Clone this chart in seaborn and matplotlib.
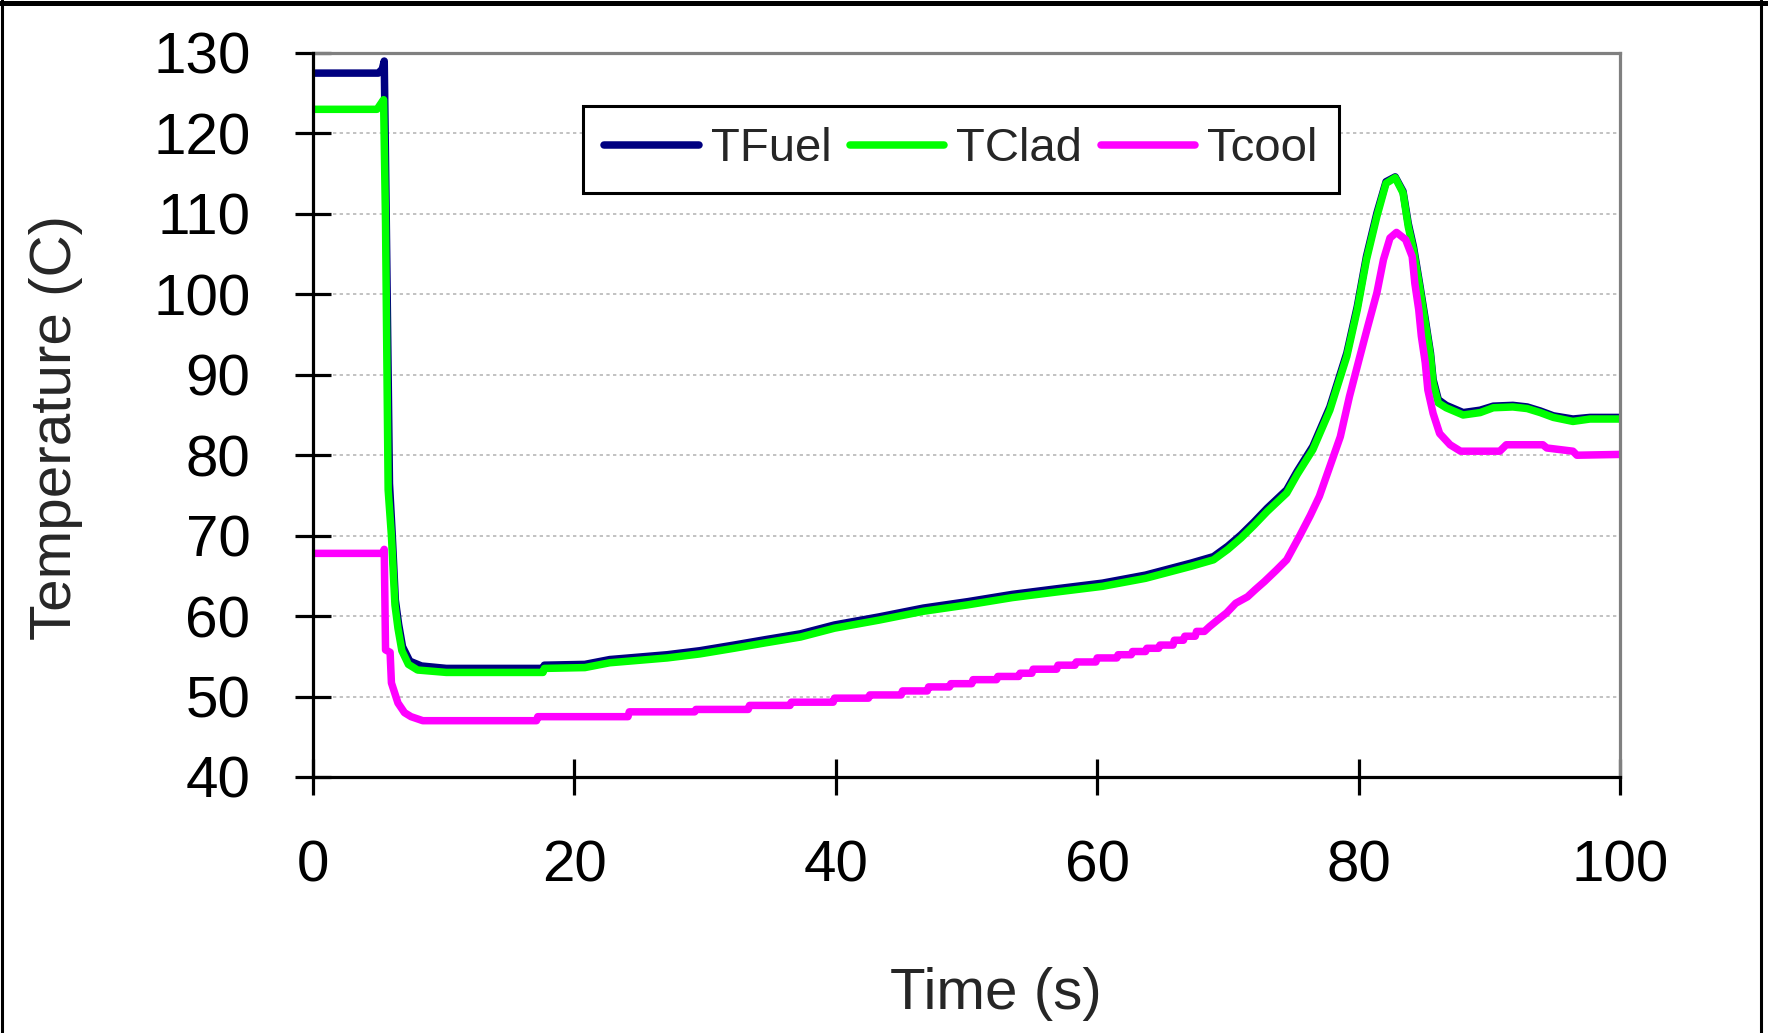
import numpy as np
import pandas as pd
import matplotlib
matplotlib.use("Agg")
import matplotlib.pyplot as plt
import seaborn as sns
from matplotlib.lines import Line2D

# ---------------- data ----------------
series_names = ["TFuel", "TClad", "Tcool"]
series_colors = ["#000080", "#00FF00", "#FF00FF"]

tfuel_time = [0, 5.0, 5.3, 5.45, 5.6, 5.85, 6.05, 6.3, 6.55, 6.85, 7.4, 8.3, 10.2,
              17.6, 17.7, 20.8, 22.7, 27.1, 29.6, 32.2, 34.7, 37.3, 39.9, 43.3,
              46.7, 50.1, 53.5, 56.9, 60.4, 63.7, 67.2, 68.9, 70.0, 71.0, 72.0,
              73.0, 74.5, 75.3, 76.5, 77.8, 79.1, 79.9, 80.6, 81.4, 82.1, 82.8,
              83.4, 83.8, 84.2, 84.7, 85.1, 85.5, 85.7, 86.1, 86.7, 88.0, 89.3,
              90.3, 91.8, 92.9, 93.9, 94.9, 96.4, 97.7, 100]
tfuel_temp = [127.5, 127.5, 128.0, 129.0, 110.0, 76.5, 70.5, 62.0, 59.0, 56.2, 54.4, 53.8, 53.5,
              53.5, 53.9, 54.0, 54.6, 55.2, 55.7, 56.4, 57.1, 57.8, 58.9, 59.9,
              61.0, 61.8, 62.7, 63.4, 64.1, 65.1, 66.6, 67.4, 68.7, 70.1, 71.7,
              73.4, 75.7, 78.0, 81.1, 86.0, 92.7, 98.5, 104.7, 110.1, 114.0, 114.6,
              112.8, 108.8, 105.9, 101.0, 96.9, 92.7, 89.4, 86.9, 86.2, 85.3, 85.6,
              86.1, 86.2, 86.0, 85.5, 84.9, 84.5, 84.7, 84.7]

tclad_time = [0, 4.9, 5.4, 5.55, 5.75, 6.0, 6.27, 6.5, 6.8, 7.3, 8.0, 10.2,
              17.6, 17.7, 20.8, 22.7, 27.1, 29.6, 32.2, 34.7, 37.3, 39.9, 43.3,
              46.7, 50.1, 53.5, 56.9, 60.4, 63.7, 67.2, 68.9, 70.0, 71.0, 72.0,
              73.0, 74.5, 75.3, 76.5, 77.8, 79.1, 79.9, 80.6, 81.4, 82.1, 82.8,
              83.4, 83.8, 84.2, 84.7, 85.1, 85.5, 85.7, 86.1, 86.7, 88.0, 89.3,
              90.3, 91.8, 92.9, 93.9, 94.9, 96.4, 97.7, 100]
tclad_temp = [123.0, 123.0, 124.2, 108.8, 75.7, 70.0, 61.4, 58.5, 55.7, 54.0, 53.3, 53.0,
              53.0, 53.5, 53.6, 54.2, 54.8, 55.3, 56.0, 56.7, 57.4, 58.5, 59.5,
              60.6, 61.4, 62.3, 63.0, 63.7, 64.7, 66.2, 67.0, 68.3, 69.7, 71.3,
              73.0, 75.3, 77.6, 80.7, 85.6, 92.3, 98.1, 104.3, 109.7, 113.8, 114.5,
              112.6, 108.4, 105.5, 100.6, 96.5, 92.3, 89.0, 86.5, 85.9, 85.0, 85.3,
              85.9, 86.0, 85.8, 85.3, 84.7, 84.2, 84.5, 84.5]

tcool_time = [0, 5.3, 5.45, 5.55, 5.9, 6.0, 6.5, 7.0, 7.5, 8.4,
              17.1, 17.2, 24.1, 24.2, 29.2, 29.3, 33.3, 33.4, 36.5, 36.6,
              39.8, 39.9, 42.5, 42.6, 45.0, 45.1, 47.0, 47.1, 48.7, 48.8,
              50.4, 50.5, 52.3, 52.4, 54.0, 54.1, 55.0, 55.1, 56.9, 57.0,
              58.3, 58.4, 59.9, 60.0, 61.5, 61.6, 62.6, 62.7, 63.7, 63.8,
              64.7, 64.8, 65.8, 65.9, 66.6, 66.7, 67.5, 67.6, 68.2, 68.6,
              69.2, 69.9, 70.6, 71.5, 72.1, 72.8, 73.7, 74.5, 75.5, 76.3,
              77.0, 77.8, 78.6, 79.3, 80.1, 80.7, 81.4, 81.9, 82.4, 82.9,
              83.6, 84.1, 84.3, 84.6, 84.8, 85.1, 85.3, 85.7, 86.2, 87.0,
              87.8, 90.8, 91.3, 94.1, 94.4, 96.4, 96.7, 100]
tcool_temp = [67.8, 67.8, 68.3, 55.8, 55.5, 51.7, 49.2, 48.0, 47.5, 47.0,
              47.0, 47.5, 47.5, 48.1, 48.1, 48.4, 48.4, 48.9, 48.9, 49.3,
              49.3, 49.8, 49.8, 50.2, 50.2, 50.7, 50.7, 51.2, 51.2, 51.6,
              51.6, 52.1, 52.1, 52.5, 52.5, 52.9, 52.9, 53.4, 53.4, 53.9,
              53.9, 54.3, 54.3, 54.8, 54.8, 55.2, 55.2, 55.6, 55.6, 56.0,
              56.0, 56.4, 56.4, 57.0, 57.0, 57.5, 57.5, 58.1, 58.1, 58.7,
              59.5, 60.4, 61.6, 62.4, 63.3, 64.3, 65.7, 67.0, 70.0, 72.5,
              74.9, 78.6, 82.3, 87.3, 92.3, 96.0, 100.2, 104.3, 107.0, 107.7,
              106.8, 104.7, 101.4, 98.1, 94.8, 91.5, 88.1, 85.2, 82.7, 81.3,
              80.5, 80.5, 81.3, 81.3, 80.9, 80.5, 80.0, 80.1]

x_ticks = [0, 20, 40, 60, 80, 100]
y_ticks = [40, 50, 60, 70, 80, 90, 100, 110, 120, 130]
x_label = "Time (s)"
y_label = "Temperature (C)"

# ---------------- build long-form table ----------------
frames = []
for name, t, v in zip(series_names,
                      [tfuel_time, tclad_time, tcool_time],
                      [tfuel_temp, tclad_temp, tcool_temp]):
    frames.append(pd.DataFrame({"Time": t, "Temp": v, "Series": name}))
df = pd.concat(frames, ignore_index=True)

sns.set_style("white")
plt.rcParams["font.family"] = ["Liberation Sans", "DejaVu Sans"]

W, H = 1768, 1033
fig = plt.figure(figsize=(W / 100, H / 100), dpi=100)
fig.patch.set_facecolor("white")

ax_l, ax_r, ax_t, ax_b = 313, 1620, 53, 777
ax = fig.add_axes([ax_l / W, 1 - ax_b / H, (ax_r - ax_l) / W, (ax_b - ax_t) / H])

palette = dict(zip(series_names, series_colors))
sns.lineplot(data=df, x="Time", y="Temp", hue="Series", hue_order=series_names,
             palette=palette, sort=False, estimator=None, linewidth=5.4,
             ax=ax, legend=False)

ax.set_xlim(0, 100)
ax.set_ylim(40, 130)
ax.set_xticks(x_ticks)
ax.set_yticks(y_ticks)
ax.set_xticklabels([str(v) for v in x_ticks])
ax.set_yticklabels([str(v) for v in y_ticks])

ax.set_axisbelow(True)
ax.yaxis.grid(True, color="#b8b8b8", linestyle=(0, (2, 2)), linewidth=1.2)
ax.xaxis.grid(False)

for s in ["left", "bottom"]:
    ax.spines[s].set_color("black")
    ax.spines[s].set_linewidth(2.3)
    ax.spines[s].set_zorder(5)
for s in ["top", "right"]:
    ax.spines[s].set_color("#808080")
    ax.spines[s].set_linewidth(2.3)

ax.tick_params(axis="both", which="major", direction="inout", length=26, width=2.3,
               color="black", labelsize=42, pad=32, labelcolor="black",
               bottom=True, left=True, top=False, right=False)

ax.set_xlabel(x_label, fontsize=42, va="center")
ax.set_ylabel(y_label, fontsize=42, va="center")
ax.xaxis.set_label_coords((996 - ax_l) / (ax_r - ax_l), (ax_b - 994) / (ax_b - ax_t))
ax.yaxis.set_label_coords((56 - ax_l) / (ax_r - ax_l), (ax_b - 427) / (ax_b - ax_t))

handles = [Line2D([0], [0], color=c, lw=5.4) for c in series_colors]
leg = ax.legend(handles, series_names, ncol=3, loc="upper left",
                bbox_to_anchor=((583 - ax_l) / (ax_r - ax_l), (ax_b - 106) / (ax_b - ax_t)),
                frameon=True, fancybox=False, edgecolor="black", framealpha=1,
                fontsize=34, handlelength=2.0, handletextpad=0.25,
                columnspacing=0.4, borderpad=0.45, borderaxespad=0)
leg.get_frame().set_linewidth(2.2)

# outer chart border (top, left, right)
fig.add_artist(Line2D([0, 1], [1 - 2.5 / H, 1 - 2.5 / H], color="black", lw=3.6,
                      transform=fig.transFigure))
fig.add_artist(Line2D([1.5 / W, 1.5 / W], [0, 1], color="black", lw=2.2,
                      transform=fig.transFigure))
fig.add_artist(Line2D([1760.5 / W, 1760.5 / W], [0, 1], color="black", lw=2.2,
                      transform=fig.transFigure))

fig.savefig("out.png", dpi=100, facecolor="white")
